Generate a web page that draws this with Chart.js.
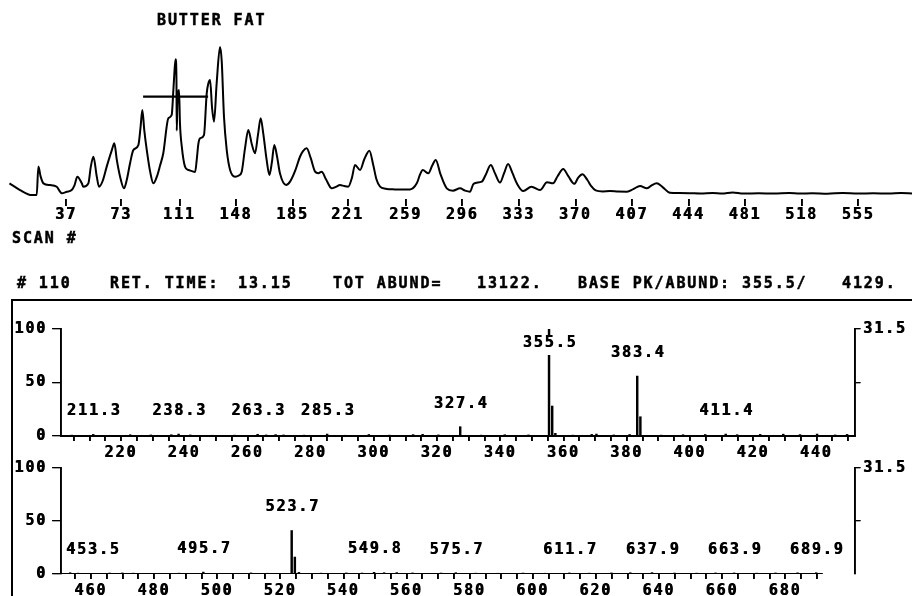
<!DOCTYPE html>
<html>
<head>
<meta charset="utf-8">
<script src="https://cdn.jsdelivr.net/npm/chart.js@4.4.0/dist/chart.umd.min.js"></script>
<style>
  html, body { margin: 0; padding: 0; background: #fff; }
  #page { position: relative; width: 912px; height: 596px; overflow: hidden; background: #fff; }
  #page canvas { position: absolute; left: 0; top: 0; }
  .t { position: absolute; font: bold 15px "DejaVu Sans Mono", monospace; letter-spacing: 1.9px;
       line-height: 16px; color: #000; white-space: pre; -webkit-text-stroke: 0.5px #000; }
  #frame { position: absolute; left: 11px; top: 299px; width: 910px; height: 310px;
           border-top: 2px solid #000; border-left: 2px solid #000; }
</style>
</head>
<body>
<div id="page">
  <div id="frame"></div>
  <canvas id="tic" width="912" height="596"></canvas>
  <canvas id="ms1" width="912" height="596"></canvas>
  <canvas id="ms2" width="912" height="596"></canvas>

  <div class="t" style="left:157px;top:12px">BUTTER FAT</div>
  <div class="t" style="left:12px;top:230px">SCAN #</div>

  <div class="t" style="left:17px;top:275px"># 110</div>
  <div class="t" style="left:110px;top:275px">RET. TIME:</div>
  <div class="t" style="left:238px;top:275px">13.15</div>
  <div class="t" style="left:333px;top:275px">TOT ABUND=</div>
  <div class="t" style="left:477px;top:275px">13122.</div>
  <div class="t" style="left:578px;top:275px">BASE PK/ABUND: 355.5/</div>
  <div class="t" style="left:842px;top:275px">4129.</div>
</div>

<script>
// ---- total ion chromatogram (scan number vs. relative abundance) ----
const ticScans = [0, 6.9, 14.6, 17.8, 18.9, 20.4, 22.2, 26.5, 30.9, 33.1, 34.2, 37.5, 40.7, 42.5, 44.4,
  47.3, 48.3, 51.6, 53.2, 54.9, 57.1, 58.6, 61, 63.6, 66.9, 68.6, 70.2, 72.5, 74.9, 76.7, 78.9, 81,
  84.3, 85.8, 86.9, 88.2, 89.8, 92, 94.1, 96.5, 98.5, 100.6, 103.9, 106.1, 107.2, 108.2, 108.7, 109.2,
  109.4, 109.8, 110.9, 111.5, 112.7, 114.8, 117, 119, 121.4, 122.5, 123.5, 124.6, 127.2, 129, 130.1,
  131.2, 132.5, 133.8, 135.5, 137.7, 138.8, 140.3, 142.1, 144.3, 147.5, 150, 151.9, 154, 156.2, 158.5,
  160.6, 162.5, 164.3, 166, 168.2, 170, 171.6, 173.2, 175, 176.9, 180.9, 183.5, 187, 190, 192, 194.4,
  197, 199.9, 202, 204.2, 207, 210.8, 213.5, 216.2, 219, 221.6, 224, 226, 229.3, 232, 235.4, 238, 240,
  242.4, 246, 252, 256, 262, 266.4, 268.5, 270.3, 274, 276.5, 278.8, 282, 286, 290, 294.7, 298, 301.2,
  303.5, 308.9, 311.5, 314.8, 317.5, 320.8, 323.5, 326.1, 329, 332, 336, 341.4, 347, 351.6, 355.5,
  358.5, 362.2, 365.5, 369.4, 372, 374.7, 378, 380.5, 383.4, 388, 392.8, 398, 403.9, 408, 412.4, 416.8,
  420, 423.3, 427, 432, 438, 445, 452, 460, 466, 473, 480, 490, 500, 510, 517, 525, 535, 545, 555, 565,
  575, 583, 590.3];
const ticAbund = [10.3, 5.9, 2.6, 2.6, 21.3, 14.7, 10.3, 9.2, 8.1, 4.8, 3.8, 4.8, 5.9, 9, 14.7,
  10.3, 8.1, 10.3, 21.3, 27.8, 14.7, 8.1, 12, 21.3, 32, 36.6, 25.7, 14, 7, 12.5, 23.7, 32.2,
  35.5, 48, 58.6, 45, 32.2, 18, 10.3, 15, 22, 30.1, 53.1, 55.3, 71.7, 88, 92, 80,
  45, 62, 71.7, 50, 34.4, 21.3, 19.1, 18.5, 17.8, 26, 36, 39.9, 42.1, 69.5, 76.1,
  78.3, 60, 50.9, 76, 100, 91, 54.1, 32.2, 19.1, 14.7, 15.5, 18, 33, 45.4, 36,
  30.1, 42, 53.1, 43, 25.7, 15.8, 24, 35.5, 28, 16.9, 9.2, 11.4, 19, 27.8, 31.5, 33.4,
  27, 18, 17, 18, 13, 7, 8, 9.2, 8.5, 8.1, 14, 22.4, 19.1, 26, 31.8, 22, 13,
  8.1, 6.8, 6.3, 6.2, 6.3, 10.3, 16, 19.1, 16.9, 22, 25.7, 16, 7, 5.5, 7, 5.5, 4.8,
  10, 11.4, 16, 22.4, 17, 10.8, 17, 23, 17, 10, 5.2, 8.1, 5.9, 11, 10.3,
  15, 19.8, 15, 10, 14, 16.3, 12.5, 8.5, 5.7, 5, 5.2, 4.9, 4.8, 6.5, 8.6, 7,
  9, 10.3, 8, 4.1, 3.9, 3.8, 3.6, 4, 3.6, 4.3, 3.6, 3.8, 3.6, 4, 3.6, 3.8, 3.5, 4, 3.6, 3.8,
  3.6, 3.9, 3.7];
const ticTickScans = [37, 73, 111, 148, 185, 221, 259, 296, 333, 370, 407, 444, 481, 518, 555];
// background-subtraction window drawn across the main cluster
const bgScanRange = [87.4, 129.9];
const bgLevel = [67.4, 67.4];

// ---- mass spectrum of scan 110, panel 1 (m/z vs. % of base peak) ----
const ms1Mass = [204.5, 211.3, 215, 223, 229.5, 236, 238.3, 242, 249, 256, 263.3, 266, 269, 271.5, 278,
  285.3, 291, 298.5, 305, 312.5, 315.5, 320.5, 327.4, 334, 341.5, 349, 355.5, 356.5, 357.5, 363, 369,
  370.5, 376, 381, 383.4, 384.4, 391, 397.9, 404.9, 411.4, 415, 422.3, 429.6, 434.9, 440.3, 446, 449.8];
const ms1Abund = [0.8, 1.5, 0.6, 1.2, 1.0, 1.2, 1.8, 1.0, 0.7, 0.8, 1.6, 1.0, 1.3, 1.0, 0.8,
  1.8, 0.7, 1.4, 0.8, 1.3, 1.6, 1.0, 8.7, 0.8, 1.2, 1.0, 100, 28, 2.5, 0.8, 1.5,
  1.8, 1.0, 1.4, 56, 18, 0.8, 1.2, 1.4, 1.8, 1.2, 1.5, 1.7, 1.3, 1.8, 1.0, 1.5];
const ms1Labeled = [211.3, 238.3, 263.3, 285.3, 327.4, 355.5, 383.4, 411.4];
const ms1TickLabels = [220, 240, 260, 280, 300, 320, 340, 360, 380, 400, 420, 440];

// ---- panel 2 ----
const ms2Mass = [453.5, 456, 466, 470, 473.5, 481, 488, 495.7, 503, 510.8, 516, 523.7, 524.7, 526, 533,
  541, 546, 549.8, 553, 557, 562, 571, 575.7, 582, 589, 597, 604, 611.7, 618, 625, 631, 637.9, 645,
  652, 658, 663.9, 671, 677, 684, 689.9];
const ms2Abund = [1.2, 0.8, 0.9, 1.0, 0.8, 0.6, 0.8, 1.8, 0.6, 1.0, 0.7, 41, 16, 1.5, 0.8,
  1.0, 0.9, 1.6, 1.2, 1.3, 1.0, 0.9, 1.2, 0.8, 0.7, 0.9, 0.7, 1.0, 0.8, 1.0, 1.2, 1.3, 0.9,
  0.8, 1.0, 1.0, 0.8, 1.0, 1.1, 1.2];
const ms2Labeled = [453.5, 495.7, 523.7, 549.8, 575.7, 611.7, 637.9, 663.9, 689.9];
const ms2TickLabels = [460, 480, 500, 520, 540, 560, 580, 600, 620, 640, 660, 680];
const ms2MassRange = [450.6, 692];

const yTickLabels = [0, 50, 100];
const rightScaleLabel = '31.5';

// ---- shared styling ----
const FONT = { family: '"DejaVu Sans Mono", monospace', size: 15, weight: 'bold', lineHeight: 1.2 };
const FONT_CSS = 'bold 15px "DejaVu Sans Mono", monospace';
const SPACING = 1.9;
const INK = '#000';

// heavy, widely spaced plotter lettering: a hard 1px-offset shadow thickens
// axis text and tick marks; it is switched off again before the data is drawn
function heavyInk(ctx, on) {
  ctx.letterSpacing = SPACING + 'px';
  ctx.shadowColor = on ? INK : 'rgba(0,0,0,0)';
  ctx.shadowBlur = 0;
  ctx.shadowOffsetX = on ? 0.7 : 0;
  ctx.shadowOffsetY = 0;
}
const inkPlugin = {
  id: 'ink',
  beforeDraw(chart) { heavyInk(chart.ctx, true); },
  beforeDatasetsDraw(chart) { heavyInk(chart.ctx, false); },
  afterDraw(chart) { heavyInk(chart.ctx, false); }
};

const baseOptions = {
  responsive: false,
  animation: false,
  devicePixelRatio: 1,
  events: [],
  plugins: { legend: { display: false }, tooltip: { enabled: false } }
};

// ---------------- chromatogram ----------------
new Chart(document.getElementById('tic'), {
  type: 'line',
  data: {
    datasets: [
      {
        data: ticScans.map((s, i) => ({ x: s, y: ticAbund[i] })),
        borderColor: INK, borderWidth: 2, pointRadius: 0,
        cubicInterpolationMode: 'monotone', clip: false
      },
      {
        data: bgScanRange.map((s, i) => ({ x: s, y: bgLevel[i] })),
        borderColor: INK, borderWidth: 2.2, pointRadius: 0, clip: false
      }
    ]
  },
  options: {
    ...baseOptions,
    layout: { padding: { top: 47, bottom: 596 - 199 - 30, left: 0, right: 0 } },
    scales: {
      x: {
        type: 'linear', min: -6.2, max: 590.3,
        afterBuildTicks: s => { s.ticks = ticTickScans.map(v => ({ value: v })); },
        afterFit: s => { s.height = 30; },
        grid: { drawOnChartArea: false, drawTicks: true, tickLength: 7, color: INK, lineWidth: 1.2 },
        border: { display: false },
        ticks: { autoSkip: false, maxRotation: 0, padding: 0, color: INK, font: FONT }
      },
      y: { display: false, min: 0, max: 100 }
    }
  },
  plugins: [inkPlugin]
});

// ---------------- mass spectrum panels ----------------
function peakLabelPlugin(mass, abund, labeled) {
  return {
    id: 'peakLabels',
    afterDatasetsDraw(chart) {
      const { ctx, chartArea } = chart;
      const x = chart.scales.x, y = chart.scales.y;
      ctx.save();
      ctx.font = FONT_CSS;
      ctx.textAlign = 'center';
      ctx.textBaseline = 'middle';
      labeled.forEach(m => {
        const a = abund[mass.indexOf(m)];
        const text = m.toFixed(1);
        heavyInk(ctx, false);
        const w = ctx.measureText(text).width;
        const cx = Math.max(x.getPixelForValue(m), chartArea.left + 4 + w / 2);
        const cy = Math.max(y.getPixelForValue(a) - 23, y.getPixelForValue(100) + 14);
        ctx.fillStyle = '#fff';
        ctx.fillRect(cx - w / 2 - 1, cy - 7, w + 2, 19);
        heavyInk(ctx, true);
        ctx.fillStyle = INK;
        ctx.fillText(text, cx + SPACING / 2, cy);
      });
      heavyInk(ctx, false);
      ctx.restore();
    }
  };
}

function spectrumChart(id, p) {
  const first = p.tickLabels[0] - 15, last = p.tickLabels[p.tickLabels.length - 1] + 10;
  const minorTicks = [];
  for (let v = first; v <= last; v += 5) {
    if (v > p.min + 2 && v < p.max - 1 && v <= p.axisEnd) minorTicks.push(v);
  }
  const datasets = [{
    type: 'bar',
    data: p.mass.map((m, i) => ({ x: m, y: p.abund[i] })),
    backgroundColor: INK, borderWidth: 0, barThickness: 1.8, yAxisID: 'y'
  }];
  if (p.baseline) {
    datasets.push({
      type: 'line',
      data: p.baseline.map(m => ({ x: m, y: 0 })),
      borderColor: INK, borderWidth: 2, pointRadius: 0, yAxisID: 'y'
    });
  }
  return new Chart(document.getElementById(id), {
    type: 'bar',
    data: { datasets },
    options: {
      ...baseOptions,
      layout: { padding: { top: p.top, bottom: 596 - p.bottom - p.axisH, left: 0, right: 0 } },
      scales: {
        x: {
          type: 'linear', min: p.min, max: p.max, offset: false,
          afterBuildTicks: s => { s.ticks = minorTicks.map(v => ({ value: v })); },
          afterFit: s => { s.height = p.axisH; },
          grid: { offset: false, drawOnChartArea: false, drawTicks: true, tickLength: 5, color: INK, lineWidth: 1.2 },
          border: { display: !p.baseline, color: INK, width: 2 },
          ticks: {
            autoSkip: false, maxRotation: 0, padding: 3, color: INK, font: FONT,
            callback: v => (p.tickLabels.includes(v) ? String(v) : '')
          }
        },
        y: {
          position: 'left', min: 0, max: 100,
          afterBuildTicks: s => { s.ticks = yTickLabels.map(v => ({ value: v })); },
          afterFit: s => { s.width = 61; },
          grid: { drawOnChartArea: false, tickLength: 9, color: INK, lineWidth: 1.2 },
          border: { display: true, color: INK, width: 1.2 },
          ticks: { padding: 5, color: INK, font: FONT }
        },
        y2: {
          position: 'right', min: 0, max: 100,
          afterBuildTicks: s => { s.ticks = [{ value: 50 }, { value: 100 }]; },
          afterFit: s => { s.width = 57; },
          grid: { drawOnChartArea: false, tickLength: 5, color: INK, lineWidth: 1.2 },
          border: { display: true, color: INK, width: 1.2 },
          ticks: { padding: 3, color: INK, font: FONT, callback: v => (v === 100 ? rightScaleLabel : '') }
        }
      }
    },
    plugins: [inkPlugin, peakLabelPlugin(p.mass, p.abund, p.labeled)]
  });
}

spectrumChart('ms1', {
  mass: ms1Mass, abund: ms1Abund, labeled: ms1Labeled, tickLabels: ms1TickLabels,
  min: 201.1, max: 452.3, axisEnd: 452.3, top: 329, bottom: 436, axisH: 30, baseline: null
});
spectrumChart('ms2', {
  mass: ms2Mass, abund: ms2Abund, labeled: ms2Labeled, tickLabels: ms2TickLabels,
  min: 450.6, max: 702.2, axisEnd: ms2MassRange[1], top: 468, bottom: 574, axisH: 22, baseline: ms2MassRange
});
</script>
</body>
</html>
